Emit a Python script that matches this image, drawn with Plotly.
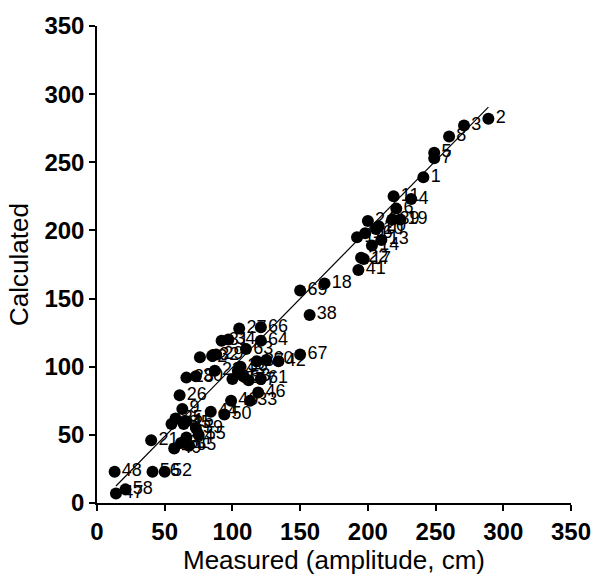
import plotly.graph_objects as go

# Point labels and their (measured, calculated) values
labels = [str(i) for i in range(1, 70)]
measured = [241, 289, 271, 232, 249, 221, 249, 260, 63, 206,
            219, 192, 210, 203, 66, 198, 197, 168, 224, 208,
            40, 195, 87, 200, 58, 61, 105, 66, 88, 73,
            92, 85, 113, 97, 100, 106, 118, 157, 218, 99,
            193, 134, 104, 84, 64, 119, 14, 13, 57, 94,
            62, 50, 108, 66, 75, 41, 112, 21, 73, 125,
            121, 76, 110, 121, 68, 121, 150, 55, 150]
calculated = [239, 282, 277, 223, 257, 216, 253, 269, 69, 201,
              225, 195, 193, 189, 60, 198, 179, 161, 208, 203,
              46, 180, 97, 207, 62, 79, 128, 92, 109, 93,
              119, 108, 75, 120, 91, 100, 104, 138, 208, 75,
              171, 104, 97, 67, 58, 81, 7, 23, 40, 65,
              44, 23, 93, 48, 50, 23, 90, 10, 55, 105,
              91, 107, 113, 119, 42, 129, 109, 58, 156]

# Regression line end points
line_x = [14, 289]
line_y = [12.5, 290.5]

x_ticks = [0, 50, 100, 150, 200, 250, 300, 350]
y_ticks = [0, 50, 100, 150, 200, 250, 300, 350]

fig = go.Figure()
fig.add_trace(go.Scatter(x=line_x, y=line_y, mode="lines",
                         line=dict(color="black", width=1.2),
                         hoverinfo="skip", showlegend=False))
fig.add_trace(go.Scatter(x=measured, y=calculated, mode="markers",
                         marker=dict(color="black", size=12),
                         showlegend=False))
fig.add_trace(go.Scatter(x=measured, y=calculated, mode="markers+text",
                         marker=dict(color="black", size=10, opacity=0),
                         text=labels, textposition="middle right",
                         textfont=dict(family="Liberation Sans", size=18, color="black"),
                         hoverinfo="skip", showlegend=False))

axis_common = dict(range=[0, 350], showgrid=False, zeroline=False,
                   showline=True, linecolor="black", linewidth=1.5,
                   ticks="outside", ticklen=6, tickwidth=1.5, tickcolor="black",
                   tickfont=dict(family="Liberation Sans", size=24, color="black",
                                 weight="bold"),
                   title_font=dict(family="Liberation Sans", size=26, color="black"))

fig.update_xaxes(tickvals=x_ticks, title_text="Measured (amplitude, cm)",
                 title_standoff=2, **axis_common)
fig.update_yaxes(tickvals=y_ticks, title_text="Calculated",
                 title_standoff=8, **axis_common)

fig.update_layout(width=603, height=577, plot_bgcolor="white", paper_bgcolor="white",
                  margin=dict(l=97, r=26, t=20, b=72))
fig.write_html("out.html")
